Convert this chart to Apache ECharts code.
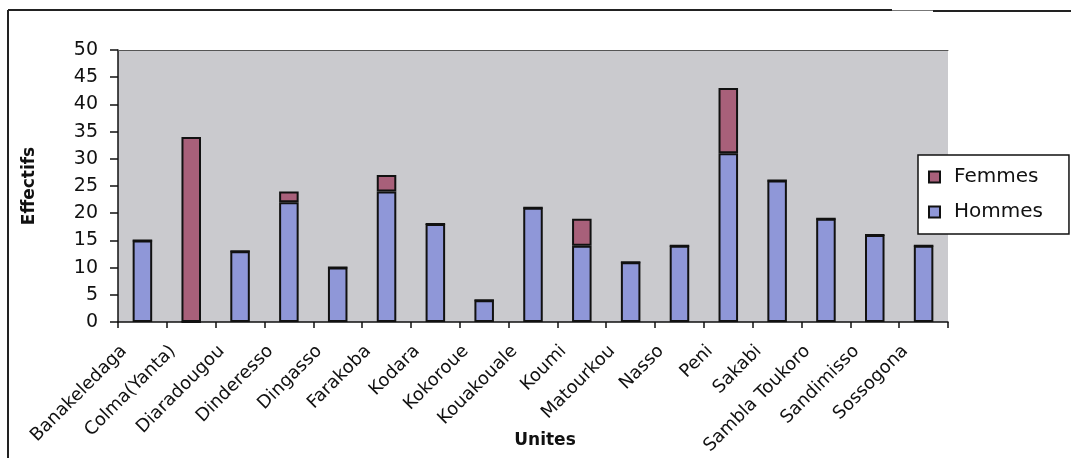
<!DOCTYPE html>
<html>
<head>
<meta charset="utf-8">
<script src="https://cdn.jsdelivr.net/npm/echarts@6/dist/echarts.min.js"></script>
<style>
  html, body { margin: 0; padding: 0; background: #ffffff; }
  #chart { width: 1071px; height: 458px; }
</style>
</head>
<body>
<div id="chart"></div>
<script>
// Staff counts per unit, split by sex
const unites = [
  'Banakeledaga', 'Colma(Yanta)', 'Diaradougou', 'Dinderesso', 'Dingasso',
  'Farakoba', 'Kodara', 'Kokoroue', 'Kouakouale', 'Koumi', 'Matourkou',
  'Nasso', 'Peni', 'Sakabi', 'Sambla Toukoro', 'Sandimisso', 'Sossogona'
];
const hommes = [15, 0, 13, 22, 10, 24, 18, 4, 21, 14, 11, 14, 31, 26, 19, 16, 14];
const femmes = [0, 34, 0, 2, 0, 3, 0, 0, 0, 5, 0, 0, 12, 0, 0, 0, 0];
const yTicks = { min: 0, max: 50, step: 5 };

const FONT = 'DejaVu Sans';
const chart = echarts.init(document.getElementById('chart'));

chart.setOption({
  animation: false,
  textStyle: { fontFamily: FONT, color: '#111' },
  grid: {
    left: 118, top: 50, right: 123, bottom: 136,
    outerBoundsMode: 'none',
    containLabel: false,
    show: true, backgroundColor: '#cacace', borderWidth: 0
  },
  legend: {
    data: ['Femmes', 'Hommes'],
    orient: 'vertical',
    left: 918, top: 155,
    padding: [12, 26, 12, 10],
    itemGap: 15,
    itemWidth: 11, itemHeight: 11,
    icon: 'rect',
    backgroundColor: '#ffffff',
    borderColor: '#111', borderWidth: 1.5,
    textStyle: { fontFamily: FONT, fontSize: 20, color: '#111', padding: [0, 0, 0, 9] }
  },
  xAxis: [{
    type: 'category',
    data: unites,
    name: 'Unites',
    nameLocation: 'middle',
    nameGap: 110,
    nameMoveOverlap: false,
    nameTextStyle: { fontFamily: FONT, fontSize: 17, fontWeight: 'bold', color: '#111', padding: [0, 0, 0, 24] },
    axisLine: { lineStyle: { color: '#111', width: 1.5 } },
    axisTick: { show: true, length: 6, lineStyle: { color: '#111', width: 1.5 } },
    axisLabel: {
      rotate: 45, interval: 0, margin: 8,
      fontFamily: FONT, fontSize: 18, color: '#111',
      padding: [0, 26, 0, 0]
    },
    splitLine: { show: false }
  }, {
    type: 'category',
    data: unites,
    position: 'top',
    axisLine: { lineStyle: { color: '#555', width: 1 } },
    axisTick: { show: false },
    axisLabel: { show: false }
  }],
  yAxis: {
    type: 'value',
    min: yTicks.min, max: yTicks.max, interval: yTicks.step,
    name: 'Effectifs',
    nameLocation: 'middle',
    nameGap: 80,
    nameRotate: 90,
    nameMoveOverlap: false,
    nameTextStyle: { fontFamily: FONT, fontSize: 17, fontWeight: 'bold', color: '#111' },
    axisLine: { show: true, lineStyle: { color: '#111', width: 1.5 } },
    axisTick: { show: true, length: 8, lineStyle: { color: '#111', width: 1.5 } },
    axisLabel: { margin: 20, fontFamily: FONT, fontSize: 19, color: '#111' },
    splitLine: { show: false }
  },
  series: [{
    name: 'Hommes',
    type: 'bar',
    stack: 'effectifs',
    data: hommes,
    barWidth: '40%',
    itemStyle: { color: '#8f97d8', borderColor: '#111', borderWidth: 2 }
  }, {
    name: 'Femmes',
    type: 'bar',
    stack: 'effectifs',
    data: femmes,
    barWidth: '40%',
    itemStyle: { color: '#a8607a', borderColor: '#111', borderWidth: 2 }
  }],
  graphic: [
    // outer frame edges
    { type: 'line', shape: { x1: 8, y1: 10, x2: 8, y2: 458 }, style: { stroke: '#222', lineWidth: 2 } },
    { type: 'line', shape: { x1: 8, y1: 10, x2: 892, y2: 10 }, style: { stroke: '#222', lineWidth: 2 } },
    { type: 'line', shape: { x1: 892, y1: 10.5, x2: 933, y2: 10.5 }, style: { stroke: '#777', lineWidth: 1 } },
    { type: 'line', shape: { x1: 933, y1: 11, x2: 1071, y2: 11 }, style: { stroke: '#222', lineWidth: 2 } }
  ]
});
</script>
</body>
</html>
